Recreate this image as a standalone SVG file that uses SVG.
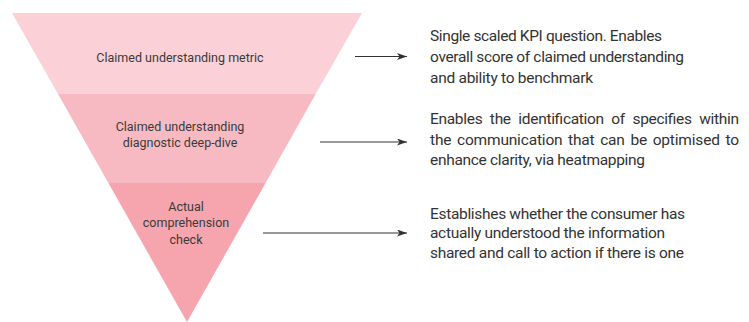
<svg xmlns="http://www.w3.org/2000/svg" width="749" height="322" viewBox="0 0 749 322">
<defs>
<marker id="ah" markerWidth="10" markerHeight="7" refX="10" refY="3.5" orient="auto" markerUnits="userSpaceOnUse">
<path d="M0,0 L10,3.5 L0,7 L2.5,3.5 Z" fill="#333"/>
</marker>
</defs>
<style>
.lbl{font-family:Roboto,"Liberation Sans",sans-serif;font-size:12.5px;fill:#3a3a3a;text-anchor:middle}
.desc{font-family:Roboto,"Liberation Sans",sans-serif;font-size:15.5px;fill:#333}
.conn{stroke:#333;stroke-width:1.2;fill:none;marker-end:url(#ah)}
</style>
<rect width="749" height="322" fill="#fff"/>
<g id="band1">
<polygon points="12,13 362,13 315.7,94 58,94" fill="#fbd1d7"/>
<text class="lbl" x="180" y="61.5">Claimed understanding metric</text>
</g>
<g id="band2">
<polygon points="58,94 315.7,94 265.6,183 108.4,183" fill="#f8bac2"/>
<text class="lbl" x="180" y="130.5">Claimed understanding</text>
<text class="lbl" x="180" y="147">diagnostic deep-dive</text>
</g>
<g id="band3">
<polygon points="108.4,183 265.6,183 187,322" fill="#f6a5ae"/>
<text class="lbl" x="186" y="210.5">Actual</text>
<text class="lbl" x="186" y="227">comprehension</text>
<text class="lbl" x="186" y="243.5">check</text>
</g>
<g id="connectors">
<line class="conn" x1="355" y1="56.5" x2="407" y2="56.5"/>
<line class="conn" x1="320" y1="142" x2="407" y2="142"/>
<line class="conn" x1="263" y1="233" x2="407" y2="233"/>
</g>
<g id="desc1">
<text class="desc" x="430" y="40.5" textLength="232" lengthAdjust="spacing">Single scaled KPI question. Enables</text>
<text class="desc" x="430" y="61.5" textLength="254" lengthAdjust="spacing">overall score of claimed understanding</text>
<text class="desc" x="430" y="82.5" textLength="163" lengthAdjust="spacing">and ability to benchmark</text>
</g>
<g id="desc2">
<text class="desc" x="430" y="124" textLength="309" lengthAdjust="spacing" style="word-spacing:4px">Enables the identification of specifies within</text>
<text class="desc" x="430" y="144.5" textLength="309" lengthAdjust="spacing" style="word-spacing:2px">the communication that can be optimised to</text>
<text class="desc" x="430" y="165" textLength="215" lengthAdjust="spacing">enhance clarity, via heatmapping</text>
</g>
<g id="desc3">
<text class="desc" x="430" y="218.5" textLength="255" lengthAdjust="spacing">Establishes whether the consumer has</text>
<text class="desc" x="430" y="238" textLength="235" lengthAdjust="spacing">actually understood the information</text>
<text class="desc" x="430" y="258" textLength="254" lengthAdjust="spacing">shared and call to action if there is one</text>
</g>
</svg>
